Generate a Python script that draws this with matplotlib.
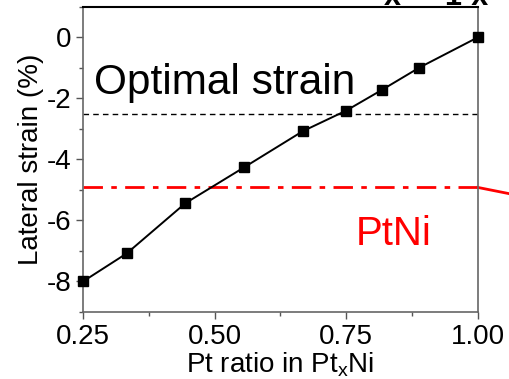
import numpy as np
import matplotlib
matplotlib.use('Agg')
import matplotlib.pyplot as plt
from matplotlib.ticker import MultipleLocator

plt.rcParams['font.family'] = ['Liberation Sans', 'DejaVu Sans']

# data
pt_ratio = [0.25, 0.333, 0.444, 0.556, 0.667, 0.75, 0.818, 0.889, 1.0]
strain = [-8.0, -7.08, -5.44, -4.26, -3.08, -2.4, -1.72, -0.99, 0.0]
optimal_strain = -2.5
ptni_strain = -4.92
# piece of the neighbouring panel's red curve, cut off at the right edge
ptni_tail_x = [1.0, 1.07]
ptni_tail_y = [-4.92, -5.16]

xticks = [0.25, 0.50, 0.75, 1.00]
xtick_labels = ['0.25', '0.50', '0.75', '1.00']
yticks = [0, -2, -4, -6, -8]

fig = plt.figure(figsize=(5.1, 3.79), dpi=100)
ax = fig.add_axes([0.163, 0.177, 0.774, 0.805])

ax.plot(pt_ratio, strain, color='black', lw=1.4, marker='s', ms=7,
        clip_on=False, zorder=5)
ax.axhline(optimal_strain, color='black', lw=1.0, ls=(0, (4, 3)))
ax.axhline(ptni_strain, color='red', lw=2.0, ls=(0, (7, 3, 2, 3)))
ax.plot(ptni_tail_x, ptni_tail_y, color='red', lw=2.0, clip_on=False)

ax.text(0.27, -1.87, 'Optimal strain', fontsize=30.5, color='black')
ax.text(0.768, -6.82, 'PtNi', fontsize=29, color='red')

ax.set_xlim(0.25, 1.0)
ax.set_ylim(-9, 1)
ax.set_xticks(xticks)
ax.set_xticklabels(xtick_labels)
ax.set_yticks(yticks)
ax.set_yticklabels(['0', '-2', '-4', '-6', '-8'])
ax.xaxis.set_minor_locator(MultipleLocator(0.125))
ax.yaxis.set_minor_locator(MultipleLocator(1))

ax.tick_params(which='both', direction='out', colors='#555555', labelcolor='black',
               labelsize=20, top=False, right=False)
ax.tick_params(which='major', length=5, width=1)
ax.tick_params(which='minor', length=3, width=1)

for side in ['left', 'bottom', 'right']:
    ax.spines[side].set_color('#666666')
    ax.spines[side].set_linewidth(1.2)
ax.spines['top'].set_color('black')
ax.spines['top'].set_linewidth(1.5)

ax.set_ylabel('Lateral strain (%)', fontsize=20, labelpad=2)
ax.set_xlabel(r'Pt ratio in Pt$_{\mathregular{x}}$Ni', fontsize=20, labelpad=0)

# bits of the panel title above, cut off by the crop
fig.text(0.752, 0.987, 'x', fontsize=22, fontweight='bold', ha='left', va='baseline')
fig.text(0.87, 0.987, '1-x', fontsize=22, fontweight='bold', ha='left', va='baseline')

fig.savefig('out.png', dpi=100)
